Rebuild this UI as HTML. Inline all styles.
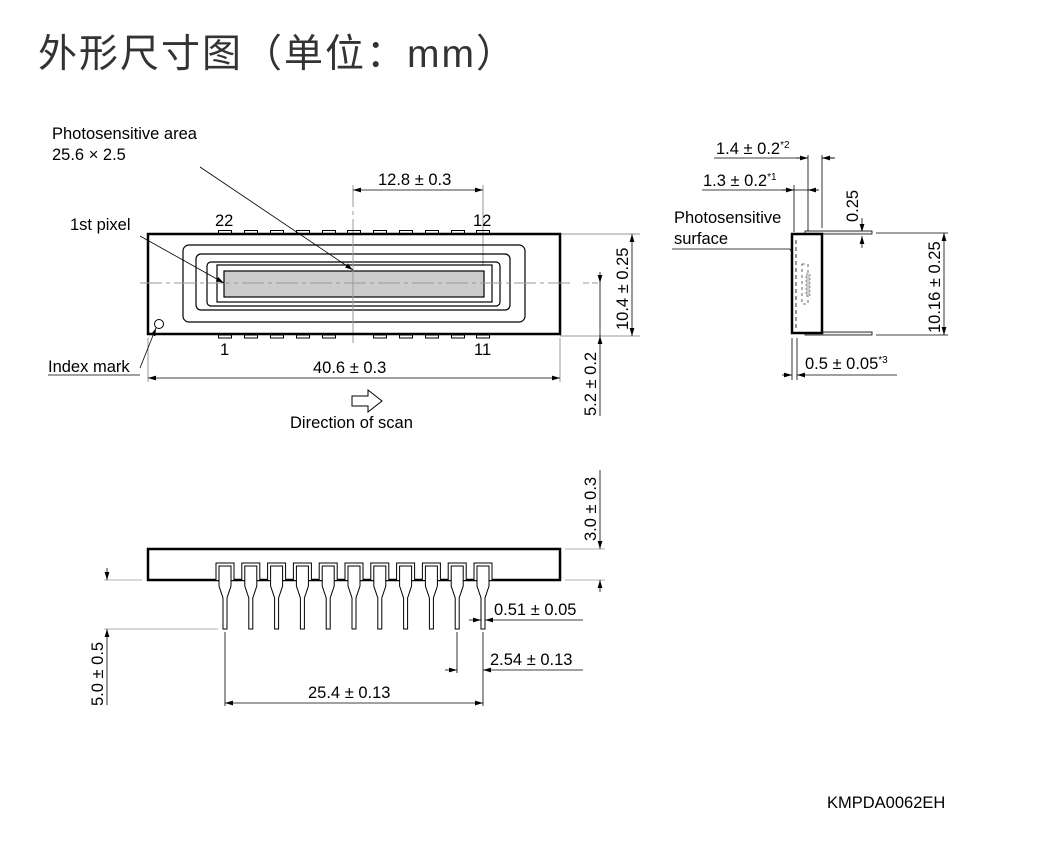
<!DOCTYPE html>
<html><head><meta charset="utf-8"><style>
html,body{margin:0;padding:0;background:#fff;}
svg{display:block;font-family:"Liberation Sans","DejaVu Sans",sans-serif;}
</style></head><body>
<svg width="1038" height="855" viewBox="0 0 1038 855" xmlns="http://www.w3.org/2000/svg">
<defs>
<marker id="a" viewBox="0 0 10 6" refX="10" refY="3" markerWidth="8" markerHeight="5" orient="auto-start-reverse" markerUnits="userSpaceOnUse"><path d="M0,0L10,3L0,6z" fill="#000"/></marker>
</defs>
<text x="38" y="67" font-size="39" fill="#333" letter-spacing="2" font-family="'Liberation Sans','Noto Sans CJK SC',sans-serif">外形尺寸图（单位：mm）</text>

<g font-size="16.5" fill="#000">
<!-- TOP VIEW -->
<g stroke="#999" stroke-width="1" fill="none">
<line x1="140" y1="283" x2="570" y2="283" stroke-dasharray="22,4,4,4"/>
<line x1="353" y1="185" x2="353" y2="345" stroke-dasharray="22,4,4,4"/>
<line x1="483" y1="185" x2="483" y2="266"/>
<line x1="560" y1="234" x2="640" y2="234"/>
<line x1="560" y1="336" x2="640" y2="336"/>
<line x1="148" y1="338" x2="148" y2="382"/>
<line x1="560" y1="338" x2="560" y2="382"/>
</g>
<rect x="148" y="234" width="412" height="100" fill="none" stroke="#000" stroke-width="2.5"/>
<g fill="none" stroke="#000" stroke-width="1.2">
<rect x="183" y="245" width="342" height="77" rx="6"/>
<rect x="196" y="254" width="314" height="56" rx="5"/>
<rect x="207" y="262" width="293" height="44" rx="4"/>
<rect x="217" y="265" width="275" height="37"/>
</g>
<rect x="224" y="271" width="260" height="26" fill="#ccc" stroke="#000" stroke-width="1.2"/>
<line x1="140" y1="283" x2="570" y2="283" stroke="#999" stroke-dasharray="22,4,4,4"/>
<line x1="353" y1="240" x2="353" y2="330" stroke="#999"/>
<circle cx="159" cy="324" r="4.5" fill="none" stroke="#000"/>
<g fill="none" stroke="#000" stroke-width="1">
<rect x="218.5" y="230.5" width="13" height="3"/><rect x="244.5" y="230.5" width="13" height="3"/><rect x="270.5" y="230.5" width="13" height="3"/><rect x="296.5" y="230.5" width="13" height="3"/><rect x="322.5" y="230.5" width="13" height="3"/><rect x="347.5" y="230.5" width="13" height="3"/><rect x="373.5" y="230.5" width="13" height="3"/><rect x="399.5" y="230.5" width="13" height="3"/><rect x="425.5" y="230.5" width="13" height="3"/><rect x="451.5" y="230.5" width="13" height="3"/><rect x="476.5" y="230.5" width="13" height="3"/>
<rect x="218.5" y="335" width="13" height="3"/><rect x="244.5" y="335" width="13" height="3"/><rect x="270.5" y="335" width="13" height="3"/><rect x="296.5" y="335" width="13" height="3"/><rect x="322.5" y="335" width="13" height="3"/><rect x="373.5" y="335" width="13" height="3"/><rect x="399.5" y="335" width="13" height="3"/><rect x="425.5" y="335" width="13" height="3"/><rect x="451.5" y="335" width="13" height="3"/><rect x="476.5" y="335" width="13" height="3"/>
</g>
<text x="215" y="226">22</text><text x="473" y="226">12</text>
<text x="220" y="355">1</text><text x="474" y="355">11</text>
<text x="52" y="139">Photosensitive area</text>
<text x="52" y="160">25.6 × 2.5</text>
<line x1="200" y1="167" x2="353" y2="270" stroke="#000" stroke-width="0.8" marker-end="url(#a)"/>
<text x="70" y="230">1st pixel</text>
<line x1="140" y1="236" x2="224" y2="283" stroke="#000" stroke-width="0.8" marker-end="url(#a)"/>
<text x="48" y="372">Index mark</text>
<line x1="140" y1="368" x2="156" y2="328" stroke="#000" stroke-width="0.8" marker-end="url(#a)"/>
<line x1="48" y1="375" x2="140" y2="375" stroke="#000" stroke-width="0.8"/>
<text x="378" y="185">12.8 ± 0.3</text>
<line x1="353" y1="190" x2="483" y2="190" stroke="#000" stroke-width="0.8" marker-start="url(#a)" marker-end="url(#a)"/>
<text x="313" y="373">40.6 ± 0.3</text>
<line x1="148" y1="378" x2="560" y2="378" stroke="#000" stroke-width="0.8" marker-start="url(#a)" marker-end="url(#a)"/>
<line x1="632" y1="234" x2="632" y2="336" stroke="#000" stroke-width="0.8" marker-start="url(#a)" marker-end="url(#a)"/>
<text transform="translate(628,330) rotate(-90)">10.4 ± 0.25</text>
<line x1="600" y1="272" x2="600" y2="283" stroke="#000" stroke-width="0.8" marker-end="url(#a)"/>
<line x1="600" y1="283" x2="600" y2="336" stroke="#000" stroke-width="0.8"/>
<line x1="600" y1="416" x2="600" y2="336" stroke="#000" stroke-width="0.8" marker-end="url(#a)"/>
<line x1="583" y1="283" x2="600" y2="283" stroke="#999" stroke-dasharray="6,3"/>
<text transform="translate(596,416) rotate(-90)">5.2 ± 0.2</text>
<!-- scan arrow -->
<path d="M352,396 H368 V390 L382,401 L368,412 V406 H352 Z" fill="#fff" stroke="#000" stroke-width="1"/>
<text x="290" y="428">Direction of scan</text>

<!-- SIDE VIEW -->
<g stroke="#000" stroke-width="0.8" fill="none">
<line x1="808" y1="155" x2="808" y2="300"/>
<line x1="822" y1="155" x2="822" y2="228"/>
<line x1="794" y1="185" x2="794" y2="232"/>
<line x1="714" y1="158" x2="808" y2="158"/>
<line x1="822" y1="158" x2="835" y2="158"/>
<line x1="796" y1="158" x2="808" y2="158" marker-end="url(#a)"/>
<line x1="834" y1="158" x2="822" y2="158" marker-end="url(#a)"/>
<line x1="702" y1="190" x2="794" y2="190"/>
<line x1="794" y1="190" x2="818" y2="190"/>
<line x1="782" y1="190" x2="794" y2="190" marker-end="url(#a)"/>
<line x1="819" y1="190" x2="808" y2="190" marker-end="url(#a)"/>
<line x1="862" y1="218" x2="862" y2="232" marker-end="url(#a)"/>
<line x1="862" y1="248" x2="862" y2="236" marker-end="url(#a)"/>
<line x1="876" y1="233" x2="948" y2="233"/>
<line x1="876" y1="335" x2="948" y2="335"/>
<line x1="944" y1="233" x2="944" y2="335" marker-start="url(#a)" marker-end="url(#a)"/>
<line x1="792" y1="338" x2="792" y2="380"/>
<line x1="797" y1="338" x2="797" y2="380"/>
<line x1="782" y1="375" x2="792" y2="375" marker-end="url(#a)"/>
<line x1="897" y1="375" x2="797" y2="375" marker-end="url(#a)"/>
<path d="M672,249 L790,249" /><path d="M790,249 L806,276" marker-end="url(#a)"/>
</g>
<rect x="805" y="231" width="67" height="3" fill="#eee" stroke="#000" stroke-width="0.8"/>
<rect x="805" y="332" width="67" height="3" fill="#eee" stroke="#000" stroke-width="0.8"/>
<rect x="792" y="234" width="30" height="99" fill="#fff" stroke="#000" stroke-width="2.5"/>
<line x1="796" y1="240" x2="796" y2="328" stroke="#000" stroke-width="0.8" stroke-dasharray="4,3"/>
<rect x="802" y="264" width="6" height="40" fill="none" stroke="#000" stroke-width="0.6" stroke-dasharray="3,3"/>
<rect x="806" y="274" width="4" height="22" fill="#ccc" stroke="#555" stroke-width="0.6" stroke-dasharray="2,2"/>
<text x="716" y="154">1.4 ± 0.2<tspan font-size="10" dy="-6">*2</tspan></text>
<text x="703" y="186">1.3 ± 0.2<tspan font-size="10" dy="-6">*1</tspan></text>
<text x="674" y="223">Photosensitive</text>
<text x="674" y="244">surface</text>
<text transform="translate(858,222) rotate(-90)">0.25</text>
<text transform="translate(940,333) rotate(-90)">10.16 ± 0.25</text>
<text x="805" y="369">0.5 ± 0.05<tspan font-size="10" dy="-6">*3</tspan></text>

<!-- BOTTOM VIEW -->
<rect x="148" y="549" width="412" height="31" fill="#fff" stroke="#000" stroke-width="2.5"/>
<g id="ld" fill="#fff" stroke="#000" stroke-width="1">
<path d="M216,580 V563 H234 V580" />
<path d="M219,580 V566 H231 V580" />
<path d="M219,580 V586 L223,598 V629 H227 V598 L231,586 V580"/>
</g>
<use href="#ld" x="25.8"/><use href="#ld" x="51.6"/><use href="#ld" x="77.4"/><use href="#ld" x="103.2"/><use href="#ld" x="129"/><use href="#ld" x="154.8"/><use href="#ld" x="180.6"/><use href="#ld" x="206.4"/><use href="#ld" x="232.2"/><use href="#ld" x="258"/>
<g stroke="#000" stroke-width="0.8" fill="none">
<line x1="104" y1="580" x2="142" y2="580" stroke="#999"/>
<line x1="104" y1="629" x2="218" y2="629" stroke="#999"/>
<line x1="107" y1="568" x2="107" y2="580" marker-end="url(#a)"/>
<line x1="107" y1="705" x2="107" y2="629" marker-end="url(#a)"/>
<line x1="565" y1="549" x2="605" y2="549" stroke="#999"/>
<line x1="565" y1="580" x2="605" y2="580" stroke="#999"/>
<line x1="600" y1="470" x2="600" y2="549" marker-end="url(#a)"/>
<line x1="600" y1="592" x2="600" y2="580" marker-end="url(#a)"/>
<line x1="225" y1="632" x2="225" y2="706"/>
<line x1="483" y1="632" x2="483" y2="706"/>
<line x1="457" y1="632" x2="457" y2="673"/>
<line x1="225" y1="703" x2="483" y2="703" marker-start="url(#a)" marker-end="url(#a)"/>
<line x1="445" y1="670" x2="457" y2="670" marker-end="url(#a)"/>
<line x1="583" y1="670" x2="483" y2="670" marker-end="url(#a)"/>
<line x1="469" y1="620" x2="481" y2="620" marker-end="url(#a)"/>
<line x1="583" y1="620" x2="485" y2="620" marker-end="url(#a)"/>
</g>
<text transform="translate(103,706) rotate(-90)">5.0 ± 0.5</text>
<text transform="translate(596,541) rotate(-90)">3.0 ± 0.3</text>
<text x="494" y="615">0.51 ± 0.05</text>
<text x="490" y="665">2.54 ± 0.13</text>
<text x="308" y="698">25.4 ± 0.13</text>

<text x="827" y="808">KMPDA0062EH</text>
</g>
</svg>
</body></html>
